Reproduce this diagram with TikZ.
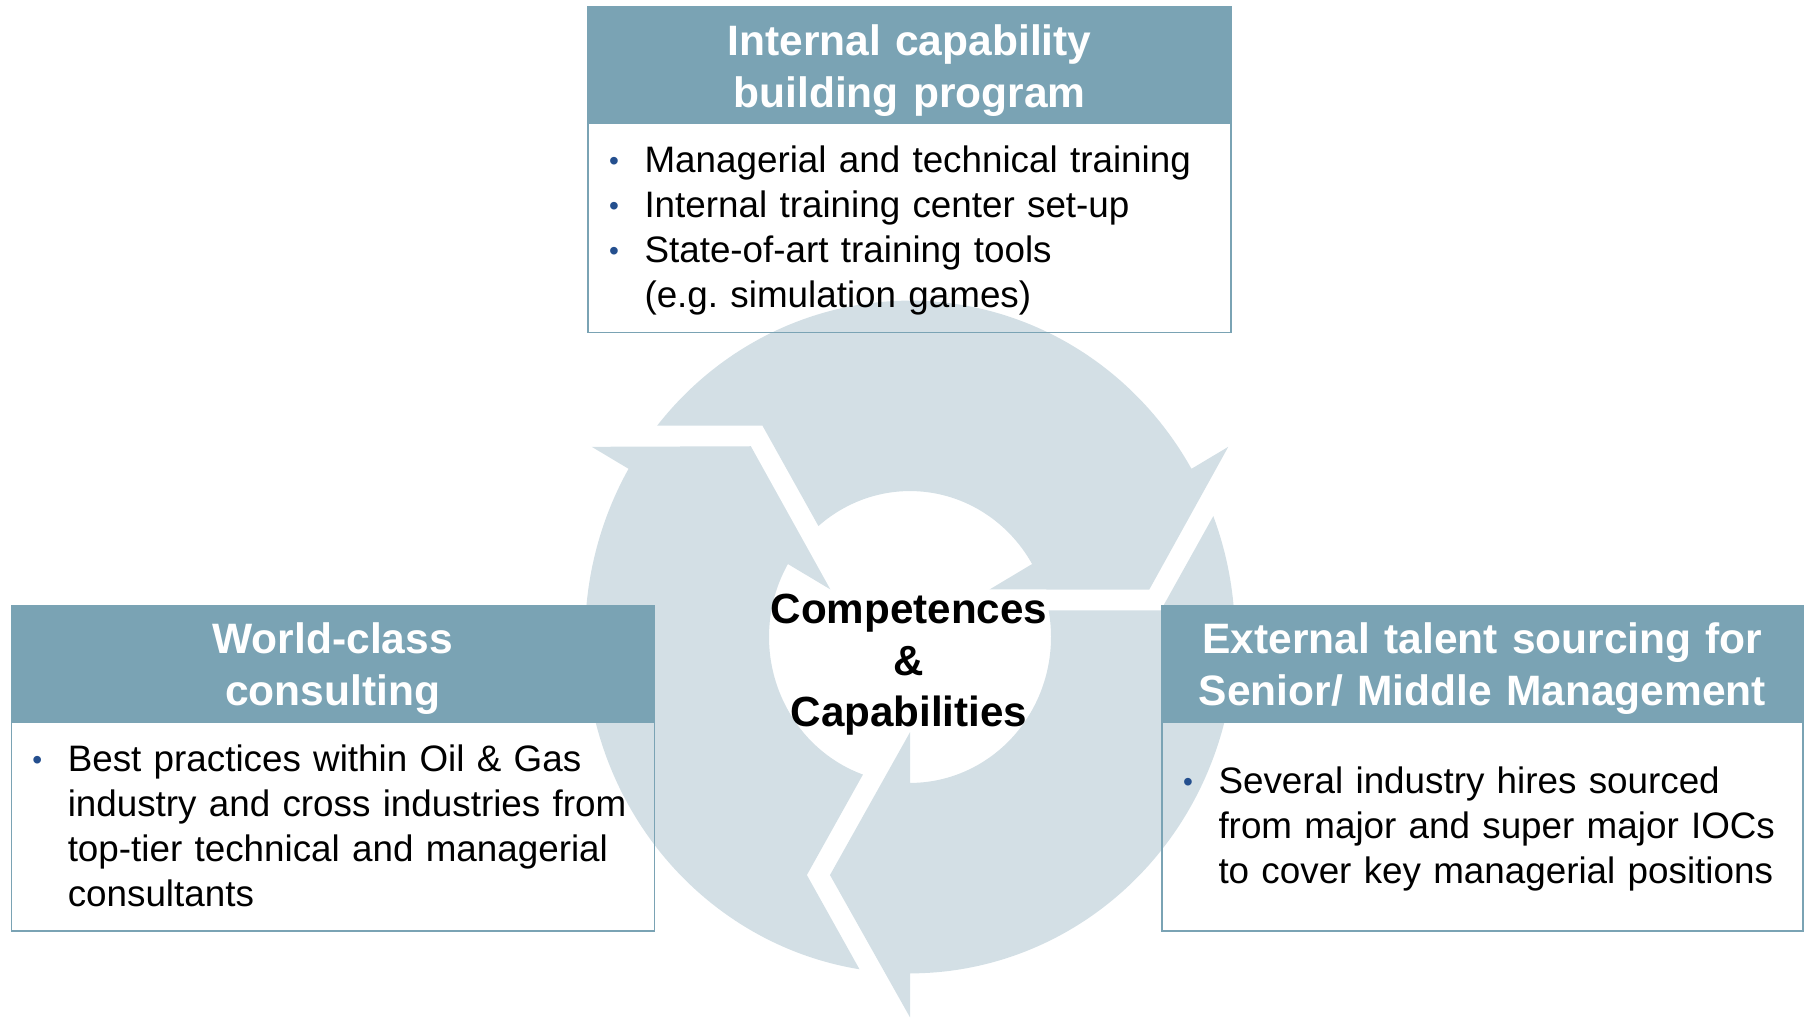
\documentclass[tikz,border=0pt]{standalone}
\usepackage{fontspec}
\setmainfont{Liberation Sans}
\usetikzlibrary{positioning}
\frenchspacing
\definecolor{ink}{HTML}{000000}
\definecolor{steel}{HTML}{7AA3B4}
\definecolor{ringfill}{HTML}{D3DFE5}
\definecolor{dotblue}{HTML}{244F8E}
\newcommand{\itm}{\makebox[0.75cm][l]{\hspace*{0.04cm}\raisebox{0.04cm}{\textcolor{dotblue}{\fontsize{16pt}{16pt}\selectfont\textbullet}}}}
\newcommand{\cont}{\hspace*{0.75cm}}
\tikzset{
  headbox/.style={fill=steel, draw=steel, line width=0.85pt, minimum width=12.86cm, minimum height=2.3cm, inner xsep=0.2cm, inner ysep=0pt, text width=12.4cm, align=center, text=white, font=\fontsize{24.2pt}{29.5pt}\selectfont\bfseries, execute at begin node={\rule{0pt}{0.86cm}}},
  bodybox/.style={draw=steel, line width=0.85pt, minimum width=12.86cm, minimum height=4.18cm, inner xsep=0.38cm, inner ysep=0pt, text width=12.1cm, align=left, text=ink, font=\fontsize{20.95pt}{25.6pt}\selectfont, execute at begin node={\rule{0pt}{0.64cm}}},
  hubtext/.style={align=center, text=ink, font=\fontsize{24pt}{29.3pt}\selectfont\bfseries},
  segment/.style={fill=ringfill, draw=none}
}

\begin{document}
\begin{tikzpicture}[x=1cm,y=1cm]
\useasboundingbox (0,0) rectangle (36.08,20.34);

% Cycle of three arrows
\coordinate (hub) at (18.2,7.6);
\foreach \turn in {0,120,240}{
  \begin{scope}[shift={(hub)}, yscale=1.035, rotate=\turn]
    \fill[segment] (141.06:6.5) arc[start angle=141.06, end angle=30, radius=6.5] -- (30:7.35) -- (4.784,0.914) -- (30:1.84) -- (30:2.82) arc[start angle=30, end angle=130.5, radius=2.82] -- (-2.952,4.086) -- cycle;
  \end{scope}
}
\node[hubtext] (core) at (18.18,7.04) {Competences\\\&\\Capabilities};

% Internal capability building
\node[headbox] (inthead) at (18.19,19.05) {Internal capability\\building program};
\node[bodybox, below=0pt of inthead] (intbody) {\itm Managerial and technical training\\\itm Internal training center set-up\\\itm State-of-art training tools\\\cont(e.g. simulation games)};

% World-class consulting
\node[headbox] (conhead) at (6.655,7.083) {World-class\\consulting};
\node[bodybox, below=0pt of conhead] (conbody) {\itm Best practices within Oil \& Gas\\\cont industry and cross industries from\\\cont top-tier technical and managerial\\\cont consultants\rule[-0.14cm]{0pt}{0.14cm}};

% External talent sourcing
\node[headbox, minimum width=12.82cm] (exthead) at (29.65,7.083) {External talent sourcing for\\Senior/ Middle Management};
\node[bodybox, minimum width=12.82cm, text width=12.06cm, below=0pt of exthead] (extbody) {\itm Several industry hires sourced\\\cont from major and super major IOCs\\\cont to cover key managerial positions};
\end{tikzpicture}
\end{document}
